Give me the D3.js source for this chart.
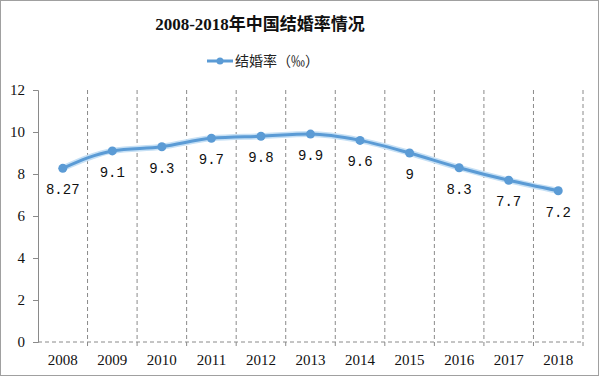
<!DOCTYPE html>
<html>
<head>
<meta charset="utf-8">
<script src="https://cdn.jsdelivr.net/npm/d3@7"></script>
<style>
  body { margin: 0; background: #fff; }
  svg { display: block; }
</style>
</head>
<body>
<div id="chart"></div>
<script>
// Data
const years = ['2008', '2009', '2010', '2011', '2012', '2013', '2014', '2015', '2016', '2017', '2018'];
const rates = [8.27, 9.1, 9.3, 9.7, 9.8, 9.9, 9.6, 9, 8.3, 7.7, 7.2];
const rateLabels = ['8.27', '9.1', '9.3', '9.7', '9.8', '9.9', '9.6', '9', '8.3', '7.7', '7.2'];
const yTicks = [0, 2, 4, 6, 8, 10, 12];

const width = 600;
const height = 378;
const margin = { top: 90, left: 38, bottom: 36, right: 17 };
const blue = '#5b9bd5';
const serif = '"Liberation Serif", "Noto Sans CJK SC", serif';

const svg = d3.select('#chart')
  .append('svg')
    .attr('width', width)
    .attr('height', height);

// Outer border
svg.append('rect')
  .attr('x', 0.5).attr('y', 0.5)
  .attr('width', width - 2).attr('height', height - 3)
  .attr('fill', '#fff')
  .attr('stroke', '#a0a0a0');

// Scales
const xScale = d3.scaleBand()
  .domain(years)
  .range([margin.left, width - margin.right]);

const yScale = d3.scaleLinear()
  .domain([0, 12])
  .range([height - margin.bottom, margin.top]);

// Title
svg.append('text')
  .attr('x', 260).attr('y', 30)
  .attr('text-anchor', 'middle')
  .attr('font-family', serif)
  .attr('font-weight', 'bold')
  .attr('font-size', 17)
  .attr('fill', '#111')
  .text('2008-2018年中国结婚率情况');

// Legend
const legend = svg.append('g').attr('transform', 'translate(207,61)');
legend.append('line')
  .attr('x1', 0).attr('x2', 26)
  .attr('stroke', blue).attr('stroke-width', 3);
legend.append('circle')
  .attr('cx', 13).attr('r', 3.5)
  .attr('fill', blue);
legend.append('text')
  .attr('x', 28).attr('y', 5)
  .attr('font-family', '"Noto Sans CJK SC", sans-serif')
  .attr('font-size', 14)
  .attr('fill', '#222')
  .text('结婚率（‰）');

// Dashed vertical grid at band boundaries
const bounds = years.slice(1).map((d) => xScale(d)).concat([xScale.range()[1]]);
svg.append('g')
  .selectAll('line')
  .data(bounds)
  .join('line')
    .attr('x1', (d) => d).attr('x2', (d) => d)
    .attr('y1', yScale(12)).attr('y2', yScale(0) + 5)
    .attr('stroke', '#8a8a8a')
    .attr('stroke-dasharray', '4,3');

// Dashed baseline
svg.append('line')
  .attr('x1', margin.left).attr('x2', xScale.range()[1])
  .attr('y1', yScale(0)).attr('y2', yScale(0))
  .attr('stroke', '#8a8a8a')
  .attr('stroke-dasharray', '4,3');

// Y axis
const yAxis = svg.append('g')
  .attr('transform', `translate(${margin.left},0)`)
  .call(d3.axisLeft(yScale).tickValues(yTicks).tickSize(5).tickPadding(8));
yAxis.select('.domain').attr('stroke', '#8a8a8a');
yAxis.selectAll('.tick line').attr('stroke', '#8a8a8a');
yAxis.selectAll('text')
  .attr('font-family', serif)
  .attr('font-size', 15)
  .attr('fill', '#111');

// X axis labels
const xAxis = svg.append('g')
  .attr('transform', `translate(0,${yScale(0)})`)
  .call(d3.axisBottom(xScale).tickSize(0).tickPadding(12));
xAxis.select('.domain').remove();
xAxis.selectAll('text')
  .attr('font-family', serif)
  .attr('font-size', 15)
  .attr('fill', '#111');

// Line
const cx = (i) => xScale(years[i]) + xScale.bandwidth() / 2;
const line = d3.line()
  .x((d, i) => cx(i))
  .y((d) => yScale(d))
  .curve(d3.curveMonotoneX);

svg.append('path')
  .datum(rates)
  .attr('d', line)
  .attr('fill', 'none')
  .attr('stroke', '#c6e0f5')
  .attr('stroke-width', 6);

svg.append('path')
  .datum(rates)
  .attr('d', line)
  .attr('fill', 'none')
  .attr('stroke', blue)
  .attr('stroke-width', 3);

// Markers
svg.append('g')
  .selectAll('circle')
  .data(rates)
  .join('circle')
    .attr('cx', (d, i) => cx(i))
    .attr('cy', (d) => yScale(d))
    .attr('r', 4.5)
    .attr('fill', blue);

// Value labels
svg.append('g')
  .selectAll('text')
  .data(rates)
  .join('text')
    .attr('x', (d, i) => cx(i))
    .attr('y', (d) => yScale(d) + 26)
    .attr('text-anchor', 'middle')
    .attr('font-family', '"Liberation Mono", monospace')
    .attr('font-size', 14)
    .attr('fill', '#111')
    .text((d, i) => rateLabels[i]);
</script>
</body>
</html>
